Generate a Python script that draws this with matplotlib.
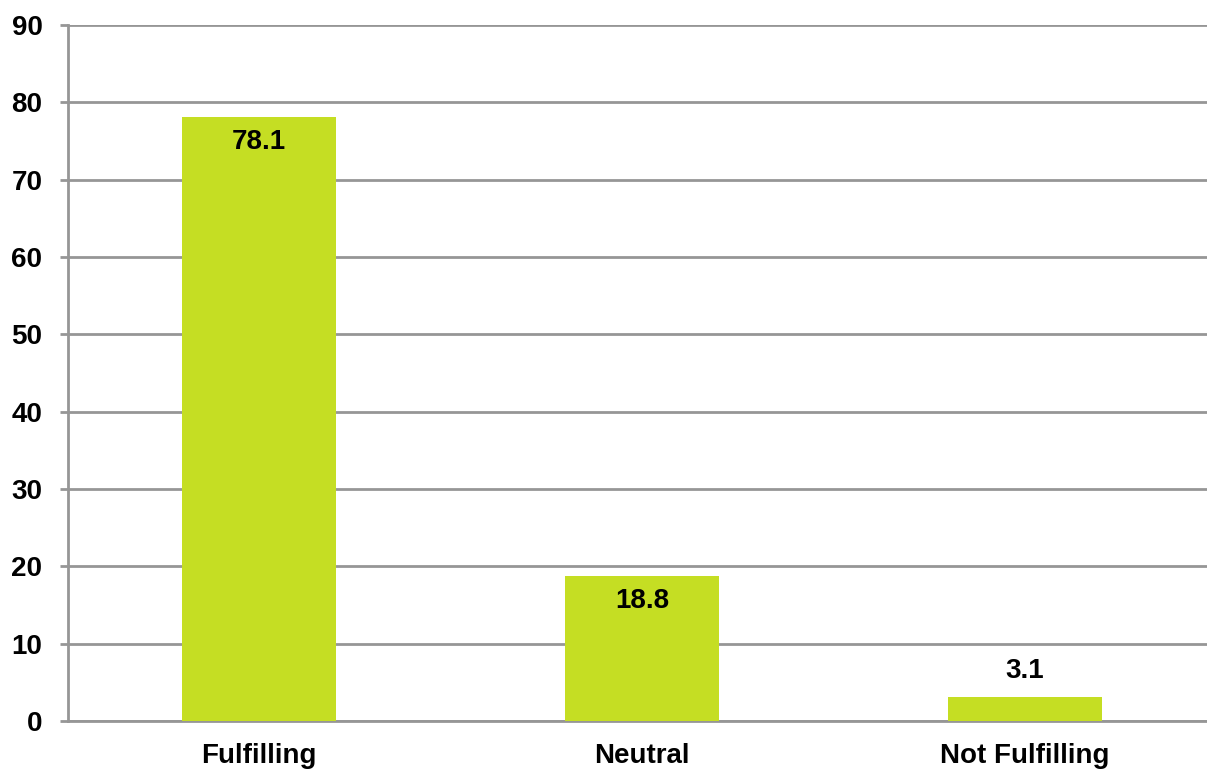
import matplotlib
matplotlib.use("Agg")
import matplotlib.pyplot as plt

categories = ["Fulfilling", "Neutral", "Not Fulfilling"]
values = [78.1, 18.8, 3.1]
yticks = [0, 10, 20, 30, 40, 50, 60, 70, 80, 90]

plt.rcParams['font.family'] = ['Liberation Sans', 'DejaVu Sans']
fs = 20

fig = plt.figure(figsize=(12.07, 7.69), dpi=100)
ax = fig.add_axes([67.5 / 1207, 1 - 721 / 769, 1 - 67.5 / 1207, (721 - 25) / 769])

grid_col = "#969696"
x = list(range(len(categories)))
bars = ax.bar(x, values, width=0.4, color="#C5DE23", zorder=3)

ax.set_ylim(0, 90)
ax.set_xlim(-0.5, 2.475)
ax.set_yticks(yticks)
ax.yaxis.grid(True, color=grid_col, linewidth=2, zorder=0)
ax.set_xticks(x)
ax.set_xticklabels(categories, fontsize=fs, fontweight="bold")
ax.tick_params(axis="x", length=0, pad=16)
ax.tick_params(axis="y", length=6, width=2, color=grid_col, labelsize=fs, pad=12)
for lab in ax.get_yticklabels():
    lab.set_fontweight("bold")

for s in ["top", "right"]:
    ax.spines[s].set_visible(False)
for s in ["left", "bottom"]:
    ax.spines[s].set_color(grid_col)
    ax.spines[s].set_linewidth(2)

for i, v in enumerate(values):
    if v > 10:
        ax.annotate(f"{v:.1f}", (i, v), xytext=(0, -18), textcoords="offset points",
                    ha="center", va="center", fontsize=fs, fontweight="bold", zorder=4)
    else:
        ax.annotate(f"{v:.1f}", (i, v), xytext=(0, 19), textcoords="offset points",
                    ha="center", va="center", fontsize=fs, fontweight="bold", zorder=4)

fig.savefig("out.png", dpi=100)
